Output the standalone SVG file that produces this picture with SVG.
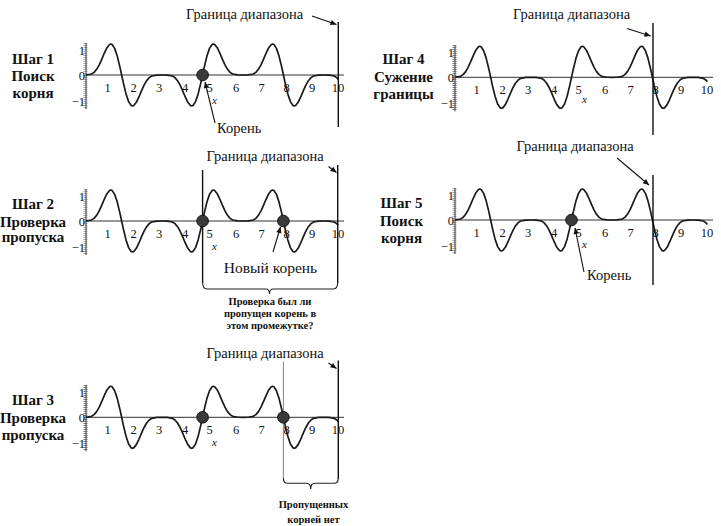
<svg xmlns="http://www.w3.org/2000/svg" xmlns:xlink="http://www.w3.org/1999/xlink" width="721" height="526" viewBox="0 0 721 526">
<style>
text{font-family:"Liberation Serif","DejaVu Serif",serif;fill:#111}
.step{font-size:15px;font-weight:bold;text-anchor:middle}
.tk{font-size:12.5px;text-anchor:middle}
.yt{font-size:12.5px;text-anchor:end}
.xl{font-size:11px;font-style:italic}
.ann{font-size:14.5px}
.note{font-size:10.5px;font-weight:bold;text-anchor:middle}
.crv{fill:none;stroke:#1a1a1a;stroke-width:1.7;stroke-linejoin:round}
.ax{stroke:#333;stroke-width:1;fill:none}
.rul{stroke:#555;stroke-width:4;stroke-dasharray:0.6 1.4;fill:none}
.bd{stroke:#111;stroke-width:1.4;fill:none}
.thin{stroke:#666;stroke-width:0.8;fill:none}
.dot{fill:#3a3a3a;stroke:#111;stroke-width:1}
.arr{stroke:#111;stroke-width:1.1;fill:none;marker-end:url(#ah)}
.br{stroke:#222;stroke-width:1.1;fill:none}
</style>
<defs>
<marker id="ah" viewBox="0 0 10 10" refX="10" refY="5" markerWidth="9" markerHeight="6" orient="auto" markerUnits="userSpaceOnUse"><path d="M0,0.5 L10,5 L0,9.5 z" fill="#111"/></marker>
<path id="curve" class="crv" d="M0,0 L5.5,-0.99 8.07,-2.66 10.65,-5.68 13.22,-10.17 15.8,-15.86 18.37,-21.96 20.95,-27.31 23.52,-30.55 24.81,-31 26.1,-30.53 28.67,-26.62 31.25,-18.92 33.82,-8.37 35.65,0 37.47,8.37 40.04,18.92 42.62,26.62 45.19,30.53 46.48,31 47.77,30.55 50.34,27.31 52.92,21.96 55.49,15.86 58.07,10.17 60.64,5.68 63.22,2.66 65.79,0.99 70.94,0.04 76.09,0 81.24,0.04 86.39,0.99 88.96,2.66 91.54,5.68 94.11,10.17 96.69,15.86 99.26,21.96 101.84,27.31 104.41,30.55 105.7,31 106.99,30.53 109.56,26.62 112.14,18.92 114.71,8.37 116.54,0 118.36,-8.37 120.93,-18.92 123.51,-26.62 126.08,-30.53 127.37,-31 128.66,-30.55 131.23,-27.31 133.81,-21.96 136.38,-15.86 138.96,-10.17 141.53,-5.68 144.11,-2.66 146.68,-0.99 151.83,-0.04 156.98,0 162.13,-0.04 167.28,-0.99 169.85,-2.66 172.43,-5.68 175,-10.17 177.58,-15.86 180.15,-21.96 182.73,-27.31 185.3,-30.55 186.59,-31 187.88,-30.53 190.45,-26.62 193.03,-18.92 195.6,-8.37 197.43,0 199.25,8.37 201.82,18.92 204.4,26.62 206.97,30.53 208.26,31 209.55,30.55 212.12,27.31 214.7,21.96 217.27,15.86 219.85,10.17 222.42,5.68 225,2.66 227.57,0.99 232.72,0.04 237.87,0 243.02,0.04 248.17,0.99 250.74,2.66 252.3,4.3"/>
<g id="axes">
<line class="ax" x1="0" y1="0" x2="258" y2="0"/>
<line class="ax" x1="0" y1="-32" x2="0" y2="34"/>
<line class="rul" x1="-0.5" y1="-32" x2="-0.5" y2="34"/>
</g>
</defs>

<g id="step1">
<text class="step" x="33" y="63.5">Шаг 1</text>
<text class="step" x="33" y="81">Поиск</text>
<text class="step" x="33" y="97.5">корня</text>
<g transform="translate(86,75)">
<use xlink:href="#axes" href="#axes"/>
<use xlink:href="#curve" href="#curve"/>
<text class="yt" x="-1" y="-20">1</text><text class="yt" x="-1" y="4.5">0</text><text class="yt" x="-1" y="31">−1</text>
<text class="tk" x="21.5" y="17">1</text><text class="tk" x="47.5" y="17">2</text><text class="tk" x="73" y="17">3</text><text class="tk" x="99" y="17">4</text><text class="tk" x="123.5" y="17">5</text><text class="tk" x="150" y="17">6</text><text class="tk" x="175.5" y="17">7</text><text class="tk" x="200.5" y="17">8</text><text class="tk" x="226" y="17">9</text><text class="tk" x="252" y="17">10</text>
<text class="xl" x="126" y="29">x</text>
</g>
<line class="bd" x1="338.3" y1="22" x2="338.3" y2="127"/>
<circle class="dot" cx="202.6" cy="75" r="5.8"/>
<text class="ann" x="186" y="19">Граница диапазона</text>
<text class="ann" x="217" y="133">Корень</text>
</g>

<g id="step2">
<text class="step" x="33" y="209">Шаг 2</text>
<text class="step" x="33" y="226.5">Проверка</text>
<text class="step" x="33" y="242">пропуска</text>
<g transform="translate(86,221)">
<use xlink:href="#axes" href="#axes"/>
<use xlink:href="#curve" href="#curve"/>
<text class="yt" x="-1" y="-20">1</text><text class="yt" x="-1" y="4.5">0</text><text class="yt" x="-1" y="31">−1</text>
<text class="tk" x="21.5" y="17">1</text><text class="tk" x="47.5" y="17">2</text><text class="tk" x="73" y="17">3</text><text class="tk" x="99" y="17">4</text><text class="tk" x="123.5" y="17">5</text><text class="tk" x="150" y="17">6</text><text class="tk" x="175.5" y="17">7</text><text class="tk" x="200.5" y="17">8</text><text class="tk" x="226" y="17">9</text><text class="tk" x="252" y="17">10</text>
<text class="xl" x="126" y="29">x</text>
</g>
<line class="bd" x1="202.6" y1="170" x2="202.6" y2="283"/>
<line class="bd" x1="337.7" y1="165" x2="337.7" y2="283"/>
<circle class="dot" cx="202.6" cy="221" r="5.8"/>
<circle class="dot" cx="283.4" cy="221" r="5.8"/>
<text class="ann" x="206.5" y="161">Граница диапазона</text>
<text class="ann" x="270.5" y="273" text-anchor="middle" style="font-size:15.5px">Новый корень</text>
<text class="note" x="270" y="305">Проверка был ли</text>
<text class="note" x="270" y="317">пропущен корень в</text>
<text class="note" x="270" y="328.5">этом промежутке?</text>
</g>

<g id="step3">
<text class="step" x="33" y="405">Шаг 3</text>
<text class="step" x="33" y="423">Проверка</text>
<text class="step" x="33" y="439.5">пропуска</text>
<g transform="translate(86,417.3)">
<use xlink:href="#axes" href="#axes"/>
<use xlink:href="#curve" href="#curve"/>
<text class="yt" x="-1" y="-20">1</text><text class="yt" x="-1" y="4.5">0</text><text class="yt" x="-1" y="31">−1</text>
<text class="tk" x="21.5" y="17">1</text><text class="tk" x="47.5" y="17">2</text><text class="tk" x="73" y="17">3</text><text class="tk" x="99" y="17">4</text><text class="tk" x="123.5" y="17">5</text><text class="tk" x="150" y="17">6</text><text class="tk" x="175.5" y="17">7</text><text class="tk" x="200.5" y="17">8</text><text class="tk" x="226" y="17">9</text><text class="tk" x="252" y="17">10</text>
<text class="xl" x="126" y="29">x</text>
</g>
<line class="thin" x1="283.4" y1="361.5" x2="283.4" y2="479"/>
<line class="bd" x1="338.3" y1="360.5" x2="338.3" y2="479"/>
<circle class="dot" cx="202.6" cy="417.3" r="5.8"/>
<circle class="dot" cx="283.4" cy="417.3" r="5.8"/>
<text class="ann" x="206.5" y="358">Граница диапазона</text>
<text class="note" x="313.5" y="508">Пропущенных</text>
<text class="note" x="313.5" y="522.5">корней нет</text>
</g>

<g id="step4">
<text class="step" x="403.5" y="63.5">Шаг 4</text>
<text class="step" x="403.5" y="82">Сужение</text>
<text class="step" x="403.5" y="99">границы</text>
<g transform="translate(455,77.3)">
<use xlink:href="#axes" href="#axes"/>
<use xlink:href="#curve" href="#curve"/>
<text class="yt" x="-1" y="-20">1</text><text class="yt" x="-1" y="4.5">0</text><text class="yt" x="-1" y="31">−1</text>
<text class="tk" x="21.5" y="17">1</text><text class="tk" x="47.5" y="17">2</text><text class="tk" x="73" y="17">3</text><text class="tk" x="99" y="17">4</text><text class="tk" x="123.5" y="17">5</text><text class="tk" x="150" y="17">6</text><text class="tk" x="175.5" y="17">7</text><text class="tk" x="200.5" y="17">8</text><text class="tk" x="226" y="17">9</text><text class="tk" x="252" y="17">10</text>
<text class="xl" x="127" y="26">x</text>
</g>
<line class="bd" x1="653" y1="23" x2="653" y2="135"/>
<text class="ann" x="513" y="19">Граница диапазона</text>
</g>

<g id="step5">
<text class="step" x="401.5" y="208">Шаг 5</text>
<text class="step" x="401.5" y="226">Поиск</text>
<text class="step" x="401.5" y="243">корня</text>
<g transform="translate(455,220)">
<use xlink:href="#axes" href="#axes"/>
<use xlink:href="#curve" href="#curve"/>
<text class="yt" x="-1" y="-20">1</text><text class="yt" x="-1" y="4.5">0</text><text class="yt" x="-1" y="31">−1</text>
<text class="tk" x="21.5" y="17">1</text><text class="tk" x="47.5" y="17">2</text><text class="tk" x="73" y="17">3</text><text class="tk" x="99" y="17">4</text><text class="tk" x="123.5" y="17">5</text><text class="tk" x="150" y="17">6</text><text class="tk" x="175.5" y="17">7</text><text class="tk" x="200.5" y="17">8</text><text class="tk" x="226" y="17">9</text><text class="tk" x="252" y="17">10</text>
<text class="xl" x="127" y="28">x</text>
</g>
<line class="bd" x1="653" y1="175" x2="653" y2="285"/>
<circle class="dot" cx="571.5" cy="220" r="5.8"/>
<text class="ann" x="516.5" y="151">Граница диапазона</text>
<text class="ann" x="587" y="280">Корень</text>
</g>

<g id="connectors">
<path class="arr" d="M312,16 L336.5,24.5"/>
<path class="arr" d="M215,123 L205,82"/>
<path class="arr" d="M328.5,166.5 L336.5,172.5"/>
<path class="arr" d="M273,252 L280.5,227"/>
<path class="br" d="M202.6,282 Q202.6,289 207,289 H265.5 Q269.5,289 269.5,294 Q269.5,289 273.5,289 H333.3 Q337.7,289 337.7,282"/>
<path class="arr" d="M328.5,363 L336.5,368.5"/>
<path class="br" d="M283.4,478 Q283.4,483.3 287.5,483.3 H306.5 Q310.7,483.3 310.7,489 Q310.7,483.3 315,483.3 H334 Q338.3,483.3 338.3,478"/>
<path class="arr" d="M627,28.5 L650.5,36"/>
<path class="arr" d="M617,158 L649,185"/>
<path class="arr" d="M584,272 L575,228"/>
</g>
</svg>
